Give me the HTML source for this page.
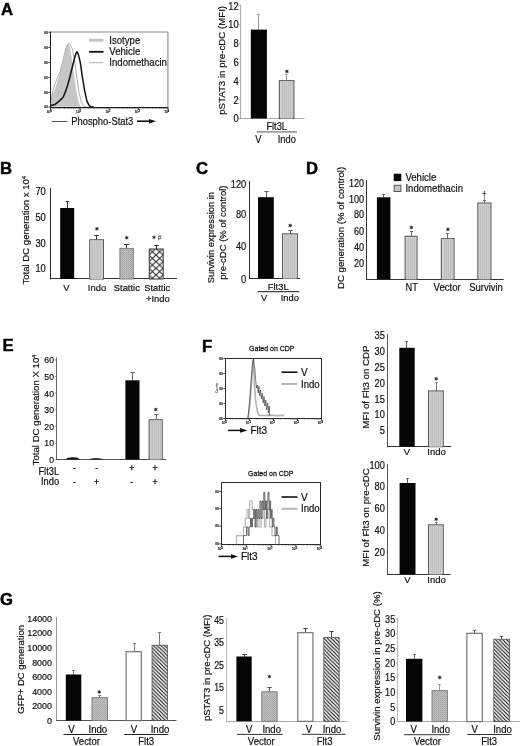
<!DOCTYPE html>
<html><head><meta charset="utf-8"><title>Figure</title>
<style>
html,body{margin:0;padding:0;background:#fff;}
svg{display:block;font-family:"Liberation Sans",sans-serif;}
</style></head><body>
<svg width="520" height="746" viewBox="0 0 520 746">
<defs>
<pattern id="dots" width="2" height="2" patternUnits="userSpaceOnUse"><rect width="2" height="2" fill="#cbcbcb"/><rect width="1" height="2" fill="#c0c0c0"/></pattern>
<pattern id="dense" width="2" height="2" patternUnits="userSpaceOnUse"><rect width="2" height="2" fill="#c0c0c0"/><rect width="1" height="1" fill="#a2a2a2"/><rect x="1" y="1" width="1" height="1" fill="#adadad"/></pattern>
<pattern id="hatch" width="3.7" height="3.7" patternUnits="userSpaceOnUse"><rect width="3.7" height="3.7" fill="#fff"/><path d="M-0.9,-0.9 L4.6,4.6 M-0.9,2.8 L0.9,4.6 M2.8,-0.9 L4.6,0.9" stroke="#0c0c0c" stroke-width="1.1"/></pattern>
<pattern id="cross" x="148.8" y="248.5" width="7.2" height="6.6" patternUnits="userSpaceOnUse"><rect width="7.2" height="6.6" fill="#fafafa"/><path d="M0,0 L7.2,6.6 M7.2,0 L0,6.6" stroke="#2a2a2a" stroke-width="1"/></pattern>
<marker id="ah" markerWidth="8" markerHeight="6" refX="1" refY="2.4" orient="auto" markerUnits="userSpaceOnUse"><path d="M0,0 L7.5,2.4 L0,4.8 Z" fill="#111"/></marker>
<filter id="soft" x="0" y="0" width="520" height="746" filterUnits="userSpaceOnUse"><feGaussianBlur stdDeviation="0.3"/></filter>
</defs>
<rect width="520" height="746" fill="#fff"/>

<g transform="translate(0 0.7)">
<path d="M50.6,105.8 L50.8,98 L51.5,96.5 L55.4,88.1 L59.2,75.8 L63.1,61.9 L66.2,48.1 L67.5,44.5 L68.5,43.5 L69.6,46 L70.8,52.7 L73.1,69.6 L75.4,86.5 L77.7,98.8 L79.2,103.5 L80.8,105.8 Z" fill="#c6c6c6" stroke="#bdbdbd" stroke-width="0.4"/>
<path d="M50.6,100 L51.1,98.8 L53.1,89.6 L55.4,81.9 L57.7,76.5 L60,71.2 L63.1,58.8 L66.2,46.5 L67.7,43.5 L68.8,42.6 L70,43.5 L72.3,48.1 L74.6,60.4 L76.9,77.3 L79.2,92.7 L81.5,101.9 L83.8,105.6 L86,106" fill="none" stroke="#8c8c8c" stroke-width="0.7" stroke-linejoin="round"/>
<path d="M50.6,105 L55.4,103.5 L59.2,100.4 L63.1,96.5 L65.4,91.2 L67.7,84.2 L70,75.8 L72.3,66.5 L74.6,57.3 L76,52.6 L76.9,51.2 L77.7,52 L78.5,54.2 L80.3,61.9 L82.3,75.8 L84.6,89.6 L86.9,100.4 L89.2,105 L91,106 L94,106.2" fill="none" stroke="#111" stroke-width="1.5" stroke-linejoin="round"/>
</g>
<line x1="50.5" y1="32" x2="167.9" y2="32" stroke="#8a8a8a" stroke-width="1"/>
<line x1="167.9" y1="32" x2="167.9" y2="107.6" stroke="#8a8a8a" stroke-width="1.1"/>
<line x1="50.5" y1="31.5" x2="50.5" y2="108.19999999999999" stroke="#1c1c1c" stroke-width="1"/>
<line x1="50.5" y1="107.6" x2="168.4" y2="107.6" stroke="#1c1c1c" stroke-width="1.3"/>
<line x1="50.5" y1="107.6" x2="50.5" y2="109.89999999999999" stroke="#333" stroke-width="0.9"/>
<line x1="59.34" y1="107.6" x2="59.34" y2="108.89999999999999" stroke="#444" stroke-width="0.5"/>
<line x1="64.5" y1="107.6" x2="64.5" y2="108.89999999999999" stroke="#444" stroke-width="0.5"/>
<line x1="68.17" y1="107.6" x2="68.17" y2="108.89999999999999" stroke="#444" stroke-width="0.5"/>
<line x1="71.01" y1="107.6" x2="71.01" y2="108.89999999999999" stroke="#444" stroke-width="0.5"/>
<line x1="73.34" y1="107.6" x2="73.34" y2="108.89999999999999" stroke="#444" stroke-width="0.5"/>
<line x1="75.3" y1="107.6" x2="75.3" y2="108.89999999999999" stroke="#444" stroke-width="0.5"/>
<line x1="77.01" y1="107.6" x2="77.01" y2="108.89999999999999" stroke="#444" stroke-width="0.5"/>
<line x1="78.51" y1="107.6" x2="78.51" y2="108.89999999999999" stroke="#444" stroke-width="0.5"/>
<line x1="79.85" y1="107.6" x2="79.85" y2="109.89999999999999" stroke="#333" stroke-width="0.9"/>
<line x1="88.69" y1="107.6" x2="88.69" y2="108.89999999999999" stroke="#444" stroke-width="0.5"/>
<line x1="93.85" y1="107.6" x2="93.85" y2="108.89999999999999" stroke="#444" stroke-width="0.5"/>
<line x1="97.52" y1="107.6" x2="97.52" y2="108.89999999999999" stroke="#444" stroke-width="0.5"/>
<line x1="100.36" y1="107.6" x2="100.36" y2="108.89999999999999" stroke="#444" stroke-width="0.5"/>
<line x1="102.69" y1="107.6" x2="102.69" y2="108.89999999999999" stroke="#444" stroke-width="0.5"/>
<line x1="104.65" y1="107.6" x2="104.65" y2="108.89999999999999" stroke="#444" stroke-width="0.5"/>
<line x1="106.36" y1="107.6" x2="106.36" y2="108.89999999999999" stroke="#444" stroke-width="0.5"/>
<line x1="107.86" y1="107.6" x2="107.86" y2="108.89999999999999" stroke="#444" stroke-width="0.5"/>
<line x1="109.2" y1="107.6" x2="109.2" y2="109.89999999999999" stroke="#333" stroke-width="0.9"/>
<line x1="118.04" y1="107.6" x2="118.04" y2="108.89999999999999" stroke="#444" stroke-width="0.5"/>
<line x1="123.2" y1="107.6" x2="123.2" y2="108.89999999999999" stroke="#444" stroke-width="0.5"/>
<line x1="126.87" y1="107.6" x2="126.87" y2="108.89999999999999" stroke="#444" stroke-width="0.5"/>
<line x1="129.71" y1="107.6" x2="129.71" y2="108.89999999999999" stroke="#444" stroke-width="0.5"/>
<line x1="132.04" y1="107.6" x2="132.04" y2="108.89999999999999" stroke="#444" stroke-width="0.5"/>
<line x1="134.0" y1="107.6" x2="134.0" y2="108.89999999999999" stroke="#444" stroke-width="0.5"/>
<line x1="135.71" y1="107.6" x2="135.71" y2="108.89999999999999" stroke="#444" stroke-width="0.5"/>
<line x1="137.21" y1="107.6" x2="137.21" y2="108.89999999999999" stroke="#444" stroke-width="0.5"/>
<line x1="138.55" y1="107.6" x2="138.55" y2="109.89999999999999" stroke="#333" stroke-width="0.9"/>
<line x1="147.39" y1="107.6" x2="147.39" y2="108.89999999999999" stroke="#444" stroke-width="0.5"/>
<line x1="152.55" y1="107.6" x2="152.55" y2="108.89999999999999" stroke="#444" stroke-width="0.5"/>
<line x1="156.22" y1="107.6" x2="156.22" y2="108.89999999999999" stroke="#444" stroke-width="0.5"/>
<line x1="159.06" y1="107.6" x2="159.06" y2="108.89999999999999" stroke="#444" stroke-width="0.5"/>
<line x1="161.39" y1="107.6" x2="161.39" y2="108.89999999999999" stroke="#444" stroke-width="0.5"/>
<line x1="163.35" y1="107.6" x2="163.35" y2="108.89999999999999" stroke="#444" stroke-width="0.5"/>
<line x1="165.06" y1="107.6" x2="165.06" y2="108.89999999999999" stroke="#444" stroke-width="0.5"/>
<line x1="166.56" y1="107.6" x2="166.56" y2="108.89999999999999" stroke="#444" stroke-width="0.5"/>
<line x1="167.9" y1="107.6" x2="167.9" y2="109.89999999999999" stroke="#333" stroke-width="0.9"/>
<line x1="48.3" y1="32.3" x2="50.5" y2="32.3" stroke="#333" stroke-width="0.9"/>
<line x1="48.3" y1="47.5" x2="50.5" y2="47.5" stroke="#333" stroke-width="0.9"/>
<line x1="48.3" y1="62.5" x2="50.5" y2="62.5" stroke="#333" stroke-width="0.9"/>
<line x1="48.3" y1="77.5" x2="50.5" y2="77.5" stroke="#333" stroke-width="0.9"/>
<line x1="48.3" y1="92.5" x2="50.5" y2="92.5" stroke="#333" stroke-width="0.9"/>
<line x1="48.3" y1="107" x2="50.5" y2="107" stroke="#333" stroke-width="0.9"/>
<line x1="89.1" y1="40.2" x2="103.5" y2="40.2" stroke="#c2c2c2" stroke-width="2.8"/>
<line x1="89.1" y1="51.8" x2="103.5" y2="51.8" stroke="#111" stroke-width="1.8"/>
<line x1="89.1" y1="62.7" x2="103.5" y2="62.7" stroke="#999" stroke-width="0.8"/>
<line x1="51.6" y1="121.5" x2="67.5" y2="121.5" stroke="#555" stroke-width="1"/>
<line x1="137" y1="121.2" x2="149.5" y2="121.2" stroke="#111" stroke-width="1.6" marker-end="url(#ah)"/>
<line x1="240.5" y1="4.6" x2="240.5" y2="119.0" stroke="#aaa" stroke-width="1"/>
<line x1="239.0" y1="118.5" x2="240.5" y2="118.5" stroke="#aaa" stroke-width="1"/>
<line x1="239.0" y1="99.68333333333334" x2="240.5" y2="99.68333333333334" stroke="#aaa" stroke-width="1"/>
<line x1="239.0" y1="80.86666666666667" x2="240.5" y2="80.86666666666667" stroke="#aaa" stroke-width="1"/>
<line x1="239.0" y1="62.05" x2="240.5" y2="62.05" stroke="#aaa" stroke-width="1"/>
<line x1="239.0" y1="43.233333333333334" x2="240.5" y2="43.233333333333334" stroke="#aaa" stroke-width="1"/>
<line x1="239.0" y1="24.41666666666667" x2="240.5" y2="24.41666666666667" stroke="#aaa" stroke-width="1"/>
<line x1="239.0" y1="5.599999999999994" x2="240.5" y2="5.599999999999994" stroke="#aaa" stroke-width="1"/>
<line x1="240.0" y1="118.5" x2="304.6" y2="118.5" stroke="#aaa" stroke-width="1"/>
<line x1="258.5" y1="14.5" x2="258.5" y2="30" stroke="#999" stroke-width="1"/>
<line x1="257.2" y1="14.5" x2="259.8" y2="14.5" stroke="#999" stroke-width="1"/>
<rect x="250.80" y="29.60" width="16.10" height="88.90" fill="#050505" stroke="none" stroke-width="1"/>
<line x1="286.5" y1="74.5" x2="286.5" y2="80" stroke="#999" stroke-width="1"/>
<line x1="285.2" y1="74.5" x2="287.8" y2="74.5" stroke="#999" stroke-width="1"/>
<rect x="279.35" y="80.65" width="14.60" height="37.85" fill="#e6e6e6" stroke="#5a5a5a" stroke-width="1.1"/>
<rect x="280.50" y="81.80" width="12.30" height="36.70" fill="url(#dots)" stroke="none" stroke-width="1"/>
<circle cx="286.9" cy="71.4" r="1.25" fill="#222"/>
<path d="M285.0,70.30000000000001 L288.79999999999995,72.5 M288.79999999999995,70.30000000000001 L285.0,72.5 M286.9,69.4 L286.9,73.4" stroke="#333" stroke-width="0.6"/>
<line x1="256.7" y1="131.8" x2="296.9" y2="131.8" stroke="#777" stroke-width="1.3"/>
<line x1="50.5" y1="188" x2="50.5" y2="279.5" stroke="#333" stroke-width="1"/>
<line x1="50.0" y1="278.5" x2="177" y2="278.5" stroke="#333" stroke-width="1"/>
<line x1="67.5" y1="201.5" x2="67.5" y2="208.5" stroke="#333" stroke-width="1"/>
<line x1="65.7" y1="201.5" x2="69.3" y2="201.5" stroke="#333" stroke-width="1"/>
<rect x="60.20" y="208.00" width="14.00" height="71.00" fill="#050505" stroke="none" stroke-width="1"/>
<line x1="96.5" y1="235.5" x2="96.5" y2="240" stroke="#333" stroke-width="1"/>
<line x1="94.1" y1="235.5" x2="98.9" y2="235.5" stroke="#333" stroke-width="1"/>
<rect x="89.75" y="239.75" width="13.70" height="39.25" fill="#e6e6e6" stroke="#5a5a5a" stroke-width="1.1"/>
<rect x="90.90" y="240.90" width="11.40" height="38.10" fill="url(#dots)" stroke="none" stroke-width="1"/>
<circle cx="96.9" cy="228.8" r="1.25" fill="#222"/>
<path d="M95.0,227.70000000000002 L98.80000000000001,229.9 M98.80000000000001,227.70000000000002 L95.0,229.9 M96.9,226.8 L96.9,230.8" stroke="#333" stroke-width="0.6"/>
<line x1="126.5" y1="244.5" x2="126.5" y2="248" stroke="#333" stroke-width="1"/>
<line x1="124.1" y1="244.5" x2="128.9" y2="244.5" stroke="#333" stroke-width="1"/>
<rect x="119.90" y="248.40" width="13.40" height="30.60" fill="url(#dense)" stroke="#808080" stroke-width="1"/>
<circle cx="126.7" cy="237.7" r="1.25" fill="#222"/>
<path d="M124.8,236.6 L128.6,238.79999999999998 M128.6,236.6 L124.8,238.79999999999998 M126.7,235.7 L126.7,239.7" stroke="#333" stroke-width="0.6"/>
<line x1="156.5" y1="245.5" x2="156.5" y2="249" stroke="#333" stroke-width="1"/>
<line x1="154.1" y1="245.5" x2="158.9" y2="245.5" stroke="#333" stroke-width="1"/>
<rect x="149.30" y="249.00" width="13.90" height="30.00" fill="url(#cross)" stroke="#333" stroke-width="1"/>
<circle cx="154" cy="237.3" r="1.1" fill="#222"/>
<path d="M152.1,236.20000000000002 L155.9,238.4 M155.9,236.20000000000002 L152.1,238.4 M154,235.3 L154,239.3" stroke="#333" stroke-width="0.6"/>
<line x1="249.5" y1="181" x2="249.5" y2="279.0" stroke="#333" stroke-width="1"/>
<line x1="249.0" y1="278.5" x2="300" y2="278.5" stroke="#333" stroke-width="1"/>
<line x1="266.5" y1="191.5" x2="266.5" y2="198" stroke="#666" stroke-width="1"/>
<line x1="264.3" y1="191.5" x2="268.7" y2="191.5" stroke="#666" stroke-width="1"/>
<rect x="258.00" y="197.20" width="15.80" height="81.30" fill="#050505" stroke="none" stroke-width="1"/>
<line x1="290.5" y1="230.5" x2="290.5" y2="234" stroke="#666" stroke-width="1"/>
<line x1="288.3" y1="230.5" x2="292.7" y2="230.5" stroke="#666" stroke-width="1"/>
<rect x="282.55" y="233.85" width="14.80" height="44.65" fill="#e6e6e6" stroke="#5a5a5a" stroke-width="1.1"/>
<rect x="283.70" y="235.00" width="12.50" height="43.50" fill="url(#dots)" stroke="none" stroke-width="1"/>
<circle cx="290.2" cy="225.5" r="1.25" fill="#222"/>
<path d="M288.3,224.4 L292.09999999999997,226.6 M292.09999999999997,224.4 L288.3,226.6 M290.2,223.5 L290.2,227.5" stroke="#333" stroke-width="0.6"/>
<line x1="257.5" y1="291.6" x2="299.3" y2="291.6" stroke="#444" stroke-width="1.1"/>
<line x1="366.5" y1="180" x2="366.5" y2="279.8" stroke="#333" stroke-width="1"/>
<line x1="366.0" y1="279.5" x2="503.7" y2="279.5" stroke="#333" stroke-width="1"/>
<line x1="383.5" y1="194.5" x2="383.5" y2="198" stroke="#666" stroke-width="1"/>
<line x1="381.7" y1="194.5" x2="385.3" y2="194.5" stroke="#666" stroke-width="1"/>
<rect x="376.90" y="197.30" width="13.50" height="82.00" fill="#050505" stroke="none" stroke-width="1"/>
<line x1="411.5" y1="231.5" x2="411.5" y2="236" stroke="#666" stroke-width="1"/>
<line x1="410.0" y1="231.5" x2="413.0" y2="231.5" stroke="#666" stroke-width="1"/>
<rect x="405.15" y="236.35" width="11.90" height="42.95" fill="#e6e6e6" stroke="#5a5a5a" stroke-width="1.1"/>
<rect x="406.30" y="237.50" width="9.60" height="41.80" fill="url(#dots)" stroke="none" stroke-width="1"/>
<circle cx="411.3" cy="227.5" r="1.25" fill="#222"/>
<path d="M409.40000000000003,226.4 L413.2,228.6 M413.2,226.4 L409.40000000000003,228.6 M411.3,225.5 L411.3,229.5" stroke="#333" stroke-width="0.6"/>
<line x1="447.5" y1="233.5" x2="447.5" y2="238.5" stroke="#666" stroke-width="1"/>
<line x1="446.0" y1="233.5" x2="449.0" y2="233.5" stroke="#666" stroke-width="1"/>
<rect x="441.35" y="238.65" width="12.70" height="40.65" fill="#e6e6e6" stroke="#5a5a5a" stroke-width="1.1"/>
<rect x="442.50" y="239.80" width="10.40" height="39.50" fill="url(#dots)" stroke="none" stroke-width="1"/>
<circle cx="447.9" cy="229.4" r="1.25" fill="#222"/>
<path d="M446.0,228.3 L449.79999999999995,230.5 M449.79999999999995,228.3 L446.0,230.5 M447.9,227.4 L447.9,231.4" stroke="#333" stroke-width="0.6"/>
<line x1="484.5" y1="200.5" x2="484.5" y2="203" stroke="#666" stroke-width="1"/>
<line x1="483.0" y1="200.5" x2="486.0" y2="200.5" stroke="#666" stroke-width="1"/>
<rect x="477.85" y="203.05" width="13.10" height="76.25" fill="#e6e6e6" stroke="#5a5a5a" stroke-width="1.1"/>
<rect x="479.00" y="204.20" width="10.80" height="75.10" fill="url(#dots)" stroke="none" stroke-width="1"/>
<rect x="393.70" y="173.70" width="7.60" height="7.40" fill="#050505" stroke="none" stroke-width="1"/>
<rect x="394.20" y="185.30" width="6.70" height="6.20" fill="url(#dots)" stroke="#555" stroke-width="1"/>
<line x1="56.5" y1="357.5" x2="56.5" y2="460.0" stroke="#666" stroke-width="1"/>
<line x1="55.3" y1="459.7" x2="56.5" y2="459.7" stroke="#666" stroke-width="1"/>
<line x1="55.3" y1="443.05" x2="56.5" y2="443.05" stroke="#666" stroke-width="1"/>
<line x1="55.3" y1="426.4" x2="56.5" y2="426.4" stroke="#666" stroke-width="1"/>
<line x1="55.3" y1="409.75" x2="56.5" y2="409.75" stroke="#666" stroke-width="1"/>
<line x1="55.3" y1="393.1" x2="56.5" y2="393.1" stroke="#666" stroke-width="1"/>
<line x1="55.3" y1="376.45" x2="56.5" y2="376.45" stroke="#666" stroke-width="1"/>
<line x1="55.3" y1="359.79999999999995" x2="56.5" y2="359.79999999999995" stroke="#666" stroke-width="1"/>
<line x1="56.0" y1="459.5" x2="166" y2="459.5" stroke="#555" stroke-width="1"/>
<path d="M65.7,459.5 L67,458 L72,457.3 L77,457.6 L80.2,459.5 Z" fill="#111"/>
<path d="M89.5,459.5 L91,458.5 L96,458.1 L101,458.4 L103.4,459.5 Z" fill="#222"/>
<line x1="132.5" y1="372.5" x2="132.5" y2="381" stroke="#666" stroke-width="1"/>
<line x1="130.3" y1="372.5" x2="134.7" y2="372.5" stroke="#666" stroke-width="1"/>
<rect x="125.40" y="380.30" width="14.10" height="79.20" fill="#050505" stroke="none" stroke-width="1"/>
<line x1="156.5" y1="414.5" x2="156.5" y2="420" stroke="#666" stroke-width="1"/>
<line x1="154.3" y1="414.5" x2="158.7" y2="414.5" stroke="#666" stroke-width="1"/>
<rect x="149.15" y="419.75" width="13.10" height="39.75" fill="#e6e6e6" stroke="#5a5a5a" stroke-width="1.1"/>
<rect x="150.30" y="420.90" width="10.80" height="38.60" fill="url(#dots)" stroke="none" stroke-width="1"/>
<circle cx="155.8" cy="409.5" r="1.25" fill="#222"/>
<path d="M153.9,408.4 L157.70000000000002,410.6 M157.70000000000002,408.4 L153.9,410.6 M155.8,407.5 L155.8,411.5" stroke="#333" stroke-width="0.6"/>
<rect x="225.5" y="358.5" width="96" height="60" fill="none" stroke="#2a2a2a" stroke-width="1"/>
<path d="M248.2,418 L249.2,410 L250.3,398 L251.5,382 L252.6,366 L253.4,360 L254.4,384 L255.6,400 L256.8,408.5 L258.2,414 L259.5,415.3 L264,415.5 L270,415.2 L276,415.6 L284.2,415.3" fill="none" stroke="#b4b4b4" stroke-width="1.7" stroke-linejoin="round"/>
<path d="M247.9,418 L249,408 L250.2,394 L251.5,376 L252.7,362 L253.4,358.7 L254,364 L254.8,369 L255.6,379.4 L256.5,388 L257.4,385 L258.2,393 L258.9,386.3 L259.7,396 L260.6,390 L261.4,399 L262.3,393 L263.2,403 L264,396.5 L264.9,406 L265.8,400 L266.7,410 L267.6,403 L268.5,413 L269.2,406 L269.6,415.7" fill="none" stroke="#333" stroke-width="0.65" stroke-linejoin="round"/>
<line x1="281.5" y1="372.2" x2="297.4" y2="372.2" stroke="#111" stroke-width="1.6"/>
<line x1="281.5" y1="383.9" x2="297.4" y2="383.9" stroke="#b4b4b4" stroke-width="2"/>
<line x1="228" y1="430.4" x2="241" y2="430.4" stroke="#111" stroke-width="1.5" marker-end="url(#ah)"/>
<line x1="225.5" y1="418.5" x2="225.5" y2="420.8" stroke="#333" stroke-width="0.9"/>
<line x1="232.72" y1="418.5" x2="232.72" y2="419.8" stroke="#444" stroke-width="0.5"/>
<line x1="236.95" y1="418.5" x2="236.95" y2="419.8" stroke="#444" stroke-width="0.5"/>
<line x1="239.95" y1="418.5" x2="239.95" y2="419.8" stroke="#444" stroke-width="0.5"/>
<line x1="242.28" y1="418.5" x2="242.28" y2="419.8" stroke="#444" stroke-width="0.5"/>
<line x1="244.18" y1="418.5" x2="244.18" y2="419.8" stroke="#444" stroke-width="0.5"/>
<line x1="245.78" y1="418.5" x2="245.78" y2="419.8" stroke="#444" stroke-width="0.5"/>
<line x1="247.17" y1="418.5" x2="247.17" y2="419.8" stroke="#444" stroke-width="0.5"/>
<line x1="248.4" y1="418.5" x2="248.4" y2="419.8" stroke="#444" stroke-width="0.5"/>
<line x1="249.5" y1="418.5" x2="249.5" y2="420.8" stroke="#333" stroke-width="0.9"/>
<line x1="256.72" y1="418.5" x2="256.72" y2="419.8" stroke="#444" stroke-width="0.5"/>
<line x1="260.95" y1="418.5" x2="260.95" y2="419.8" stroke="#444" stroke-width="0.5"/>
<line x1="263.95" y1="418.5" x2="263.95" y2="419.8" stroke="#444" stroke-width="0.5"/>
<line x1="266.28" y1="418.5" x2="266.28" y2="419.8" stroke="#444" stroke-width="0.5"/>
<line x1="268.18" y1="418.5" x2="268.18" y2="419.8" stroke="#444" stroke-width="0.5"/>
<line x1="269.78" y1="418.5" x2="269.78" y2="419.8" stroke="#444" stroke-width="0.5"/>
<line x1="271.17" y1="418.5" x2="271.17" y2="419.8" stroke="#444" stroke-width="0.5"/>
<line x1="272.4" y1="418.5" x2="272.4" y2="419.8" stroke="#444" stroke-width="0.5"/>
<line x1="273.5" y1="418.5" x2="273.5" y2="420.8" stroke="#333" stroke-width="0.9"/>
<line x1="280.72" y1="418.5" x2="280.72" y2="419.8" stroke="#444" stroke-width="0.5"/>
<line x1="284.95" y1="418.5" x2="284.95" y2="419.8" stroke="#444" stroke-width="0.5"/>
<line x1="287.95" y1="418.5" x2="287.95" y2="419.8" stroke="#444" stroke-width="0.5"/>
<line x1="290.28" y1="418.5" x2="290.28" y2="419.8" stroke="#444" stroke-width="0.5"/>
<line x1="292.18" y1="418.5" x2="292.18" y2="419.8" stroke="#444" stroke-width="0.5"/>
<line x1="293.78" y1="418.5" x2="293.78" y2="419.8" stroke="#444" stroke-width="0.5"/>
<line x1="295.17" y1="418.5" x2="295.17" y2="419.8" stroke="#444" stroke-width="0.5"/>
<line x1="296.4" y1="418.5" x2="296.4" y2="419.8" stroke="#444" stroke-width="0.5"/>
<line x1="297.5" y1="418.5" x2="297.5" y2="420.8" stroke="#333" stroke-width="0.9"/>
<line x1="304.72" y1="418.5" x2="304.72" y2="419.8" stroke="#444" stroke-width="0.5"/>
<line x1="308.95" y1="418.5" x2="308.95" y2="419.8" stroke="#444" stroke-width="0.5"/>
<line x1="311.95" y1="418.5" x2="311.95" y2="419.8" stroke="#444" stroke-width="0.5"/>
<line x1="314.28" y1="418.5" x2="314.28" y2="419.8" stroke="#444" stroke-width="0.5"/>
<line x1="316.18" y1="418.5" x2="316.18" y2="419.8" stroke="#444" stroke-width="0.5"/>
<line x1="317.78" y1="418.5" x2="317.78" y2="419.8" stroke="#444" stroke-width="0.5"/>
<line x1="319.17" y1="418.5" x2="319.17" y2="419.8" stroke="#444" stroke-width="0.5"/>
<line x1="320.4" y1="418.5" x2="320.4" y2="419.8" stroke="#444" stroke-width="0.5"/>
<line x1="321.5" y1="418.5" x2="321.5" y2="420.8" stroke="#333" stroke-width="0.9"/>
<line x1="223.3" y1="358.5" x2="225.5" y2="358.5" stroke="#333" stroke-width="0.9"/>
<line x1="223.3" y1="373.5" x2="225.5" y2="373.5" stroke="#333" stroke-width="0.9"/>
<line x1="223.3" y1="388.5" x2="225.5" y2="388.5" stroke="#333" stroke-width="0.9"/>
<line x1="223.3" y1="403.5" x2="225.5" y2="403.5" stroke="#333" stroke-width="0.9"/>
<line x1="223.3" y1="418.5" x2="225.5" y2="418.5" stroke="#333" stroke-width="0.9"/>
<rect x="221.5" y="482.5" width="99" height="62" fill="none" stroke="#2a2a2a" stroke-width="1"/>
<path transform="translate(0 0.4)" d="M236.6,543.9 V535.2 H243.5 V526.5 H245.3 V517.9 H247 V509.2 H248.6 V517.9 H249.6 V500.6 H252.2 V509.2 H253.5 V517.9 H255 V509.2 H256 V526.5 H257.5 V517.9 H259 V526.5 H261 V517.9 H263 V509.2 H264.5 V526.5 H266 V517.9 H268 V509.2 H269.5 V526.5 H272 V535.2 H275.5 V543.9" fill="none" stroke="#b4b4b4" stroke-width="1.15"/>
<path transform="translate(0 0.4)" d="M243.5,543.9 V535.2 H246.5 V526.5 H248 V535.2 H249 V526.5 H250.5 V517.9 H251.5 V526.5 H252.5 V517.9 H254 V509.2 H255 V526.5 H256 V509.2 H257 V517.9 H258 V509.2 H259 V517.9 H260 V500.6 H261 V517.9 H262 V500.6 H263 V509.2 H263.8 V491.9 H264.8 V509.2 H265.6 V500.6 H266.4 V517.9 H267.2 V500.6 H268 V491.9 H269 V509.2 H269.8 V500.6 H270.6 V517.9 H271.4 V509.2 H272.2 V526.5 H273 V517.9 H274 V526.5 H275 V535.2 H276.4 V526.5 H277.2 V535.2 H279 V543.9" fill="none" stroke="#3a3a3a" stroke-width="0.75"/>
<line x1="281.5" y1="497" x2="297.4" y2="497" stroke="#111" stroke-width="1.6"/>
<line x1="281.5" y1="508.8" x2="297.4" y2="508.8" stroke="#b4b4b4" stroke-width="2"/>
<line x1="218.6" y1="556.4" x2="231.6" y2="556.4" stroke="#111" stroke-width="1.5" marker-end="url(#ah)"/>
<line x1="221.5" y1="544.5" x2="221.5" y2="546.8" stroke="#333" stroke-width="0.9"/>
<line x1="228.95" y1="544.5" x2="228.95" y2="545.8" stroke="#444" stroke-width="0.5"/>
<line x1="233.31" y1="544.5" x2="233.31" y2="545.8" stroke="#444" stroke-width="0.5"/>
<line x1="236.4" y1="544.5" x2="236.4" y2="545.8" stroke="#444" stroke-width="0.5"/>
<line x1="238.8" y1="544.5" x2="238.8" y2="545.8" stroke="#444" stroke-width="0.5"/>
<line x1="240.76" y1="544.5" x2="240.76" y2="545.8" stroke="#444" stroke-width="0.5"/>
<line x1="242.42" y1="544.5" x2="242.42" y2="545.8" stroke="#444" stroke-width="0.5"/>
<line x1="243.85" y1="544.5" x2="243.85" y2="545.8" stroke="#444" stroke-width="0.5"/>
<line x1="245.12" y1="544.5" x2="245.12" y2="545.8" stroke="#444" stroke-width="0.5"/>
<line x1="246.25" y1="544.5" x2="246.25" y2="546.8" stroke="#333" stroke-width="0.9"/>
<line x1="253.7" y1="544.5" x2="253.7" y2="545.8" stroke="#444" stroke-width="0.5"/>
<line x1="258.06" y1="544.5" x2="258.06" y2="545.8" stroke="#444" stroke-width="0.5"/>
<line x1="261.15" y1="544.5" x2="261.15" y2="545.8" stroke="#444" stroke-width="0.5"/>
<line x1="263.55" y1="544.5" x2="263.55" y2="545.8" stroke="#444" stroke-width="0.5"/>
<line x1="265.51" y1="544.5" x2="265.51" y2="545.8" stroke="#444" stroke-width="0.5"/>
<line x1="267.17" y1="544.5" x2="267.17" y2="545.8" stroke="#444" stroke-width="0.5"/>
<line x1="268.6" y1="544.5" x2="268.6" y2="545.8" stroke="#444" stroke-width="0.5"/>
<line x1="269.87" y1="544.5" x2="269.87" y2="545.8" stroke="#444" stroke-width="0.5"/>
<line x1="271.0" y1="544.5" x2="271.0" y2="546.8" stroke="#333" stroke-width="0.9"/>
<line x1="278.45" y1="544.5" x2="278.45" y2="545.8" stroke="#444" stroke-width="0.5"/>
<line x1="282.81" y1="544.5" x2="282.81" y2="545.8" stroke="#444" stroke-width="0.5"/>
<line x1="285.9" y1="544.5" x2="285.9" y2="545.8" stroke="#444" stroke-width="0.5"/>
<line x1="288.3" y1="544.5" x2="288.3" y2="545.8" stroke="#444" stroke-width="0.5"/>
<line x1="290.26" y1="544.5" x2="290.26" y2="545.8" stroke="#444" stroke-width="0.5"/>
<line x1="291.92" y1="544.5" x2="291.92" y2="545.8" stroke="#444" stroke-width="0.5"/>
<line x1="293.35" y1="544.5" x2="293.35" y2="545.8" stroke="#444" stroke-width="0.5"/>
<line x1="294.62" y1="544.5" x2="294.62" y2="545.8" stroke="#444" stroke-width="0.5"/>
<line x1="295.75" y1="544.5" x2="295.75" y2="546.8" stroke="#333" stroke-width="0.9"/>
<line x1="303.2" y1="544.5" x2="303.2" y2="545.8" stroke="#444" stroke-width="0.5"/>
<line x1="307.56" y1="544.5" x2="307.56" y2="545.8" stroke="#444" stroke-width="0.5"/>
<line x1="310.65" y1="544.5" x2="310.65" y2="545.8" stroke="#444" stroke-width="0.5"/>
<line x1="313.05" y1="544.5" x2="313.05" y2="545.8" stroke="#444" stroke-width="0.5"/>
<line x1="315.01" y1="544.5" x2="315.01" y2="545.8" stroke="#444" stroke-width="0.5"/>
<line x1="316.67" y1="544.5" x2="316.67" y2="545.8" stroke="#444" stroke-width="0.5"/>
<line x1="318.1" y1="544.5" x2="318.1" y2="545.8" stroke="#444" stroke-width="0.5"/>
<line x1="319.37" y1="544.5" x2="319.37" y2="545.8" stroke="#444" stroke-width="0.5"/>
<line x1="320.5" y1="544.5" x2="320.5" y2="546.8" stroke="#333" stroke-width="0.9"/>
<line x1="219.3" y1="491.4" x2="221.5" y2="491.4" stroke="#333" stroke-width="0.9"/>
<line x1="219.3" y1="508.7" x2="221.5" y2="508.7" stroke="#333" stroke-width="0.9"/>
<line x1="219.3" y1="526" x2="221.5" y2="526" stroke="#333" stroke-width="0.9"/>
<line x1="219.3" y1="543.9" x2="221.5" y2="543.9" stroke="#333" stroke-width="0.9"/>
<line x1="387.5" y1="334" x2="387.5" y2="447.2" stroke="#555" stroke-width="1"/>
<line x1="387.0" y1="446.5" x2="451.3" y2="446.5" stroke="#333" stroke-width="1"/>
<line x1="406.5" y1="341.5" x2="406.5" y2="348" stroke="#555" stroke-width="1"/>
<line x1="405.2" y1="341.5" x2="407.8" y2="341.5" stroke="#555" stroke-width="1"/>
<rect x="399.30" y="347.80" width="15.40" height="98.90" fill="#050505" stroke="none" stroke-width="1"/>
<line x1="436.5" y1="382.5" x2="436.5" y2="391" stroke="#777" stroke-width="1"/>
<line x1="435.2" y1="382.5" x2="437.8" y2="382.5" stroke="#777" stroke-width="1"/>
<rect x="428.55" y="390.95" width="14.70" height="55.75" fill="#e6e6e6" stroke="#5a5a5a" stroke-width="1.1"/>
<rect x="429.70" y="392.10" width="12.40" height="54.60" fill="url(#dots)" stroke="none" stroke-width="1"/>
<circle cx="436.2" cy="378.8" r="1.25" fill="#222"/>
<path d="M434.3,377.7 L438.09999999999997,379.90000000000003 M438.09999999999997,377.7 L434.3,379.90000000000003 M436.2,376.8 L436.2,380.8" stroke="#333" stroke-width="0.6"/>
<line x1="387.5" y1="464" x2="387.5" y2="574.8" stroke="#555" stroke-width="1"/>
<line x1="387.0" y1="574.5" x2="450.5" y2="574.5" stroke="#333" stroke-width="1"/>
<line x1="407.5" y1="478.5" x2="407.5" y2="484" stroke="#555" stroke-width="1"/>
<line x1="406.2" y1="478.5" x2="408.8" y2="478.5" stroke="#555" stroke-width="1"/>
<rect x="399.60" y="483.00" width="15.90" height="91.30" fill="#050505" stroke="none" stroke-width="1"/>
<line x1="436.5" y1="522.5" x2="436.5" y2="525" stroke="#777" stroke-width="1"/>
<line x1="435.2" y1="522.5" x2="437.8" y2="522.5" stroke="#777" stroke-width="1"/>
<rect x="428.55" y="524.85" width="14.70" height="49.45" fill="#e6e6e6" stroke="#5a5a5a" stroke-width="1.1"/>
<rect x="429.70" y="526.00" width="12.40" height="48.30" fill="url(#dots)" stroke="none" stroke-width="1"/>
<circle cx="436.2" cy="519.3" r="1.25" fill="#222"/>
<path d="M434.3,518.1999999999999 L438.09999999999997,520.4 M438.09999999999997,518.1999999999999 L434.3,520.4 M436.2,517.3 L436.2,521.3" stroke="#333" stroke-width="0.6"/>
<line x1="56.5" y1="617" x2="56.5" y2="721.1" stroke="#999" stroke-width="1"/>
<line x1="56.0" y1="720.5" x2="176.5" y2="720.5" stroke="#555" stroke-width="1.1"/>
<line x1="73.5" y1="670.5" x2="73.5" y2="675" stroke="#7a7a7a" stroke-width="1"/>
<line x1="71.9" y1="670.5" x2="75.1" y2="670.5" stroke="#7a7a7a" stroke-width="1"/>
<rect x="65.80" y="674.50" width="15.50" height="46.10" fill="#050505" stroke="none" stroke-width="1"/>
<line x1="99.5" y1="695.5" x2="99.5" y2="698" stroke="#7a7a7a" stroke-width="1"/>
<line x1="97.9" y1="695.5" x2="101.1" y2="695.5" stroke="#7a7a7a" stroke-width="1"/>
<rect x="92.00" y="697.60" width="15.50" height="23.00" fill="url(#dense)" stroke="#808080" stroke-width="1"/>
<circle cx="99.2" cy="692" r="1.25" fill="#222"/>
<path d="M97.3,690.9 L101.10000000000001,693.1 M101.10000000000001,690.9 L97.3,693.1 M99.2,690 L99.2,694" stroke="#333" stroke-width="0.6"/>
<line x1="134.5" y1="643.5" x2="134.5" y2="652" stroke="#7a7a7a" stroke-width="1"/>
<line x1="132.9" y1="643.5" x2="136.1" y2="643.5" stroke="#7a7a7a" stroke-width="1"/>
<rect x="126.10" y="651.70" width="15.20" height="68.90" fill="#fff" stroke="#6a6a6a" stroke-width="1.1"/>
<line x1="159.5" y1="632.5" x2="159.5" y2="645" stroke="#7a7a7a" stroke-width="1"/>
<line x1="157.9" y1="632.5" x2="161.1" y2="632.5" stroke="#7a7a7a" stroke-width="1"/>
<rect x="152.00" y="645.20" width="15.50" height="75.40" fill="url(#hatch)" stroke="#444" stroke-width="0.7"/>
<line x1="63.5" y1="734.5" x2="107.3" y2="734.5" stroke="#222" stroke-width="1"/>
<line x1="124.3" y1="734.5" x2="168.3" y2="734.5" stroke="#222" stroke-width="1"/>
<line x1="226.5" y1="618" x2="226.5" y2="721.8" stroke="#bbb" stroke-width="1"/>
<line x1="226.0" y1="721.5" x2="347.5" y2="721.5" stroke="#aaa" stroke-width="1"/>
<line x1="244.5" y1="654.5" x2="244.5" y2="657" stroke="#444" stroke-width="1"/>
<line x1="242.3" y1="654.5" x2="246.7" y2="654.5" stroke="#444" stroke-width="1"/>
<rect x="236.40" y="656.50" width="15.30" height="64.80" fill="#050505" stroke="none" stroke-width="1"/>
<line x1="269.5" y1="687.5" x2="269.5" y2="692" stroke="#555" stroke-width="1"/>
<line x1="267.3" y1="687.5" x2="271.7" y2="687.5" stroke="#555" stroke-width="1"/>
<rect x="261.80" y="691.80" width="15.30" height="29.50" fill="url(#dense)" stroke="#808080" stroke-width="1"/>
<circle cx="269.4" cy="676.6" r="1.25" fill="#222"/>
<path d="M267.5,675.5 L271.29999999999995,677.7 M271.29999999999995,675.5 L267.5,677.7 M269.4,674.6 L269.4,678.6" stroke="#333" stroke-width="0.6"/>
<line x1="305.5" y1="628.5" x2="305.5" y2="633" stroke="#444" stroke-width="1"/>
<line x1="303.3" y1="628.5" x2="307.7" y2="628.5" stroke="#444" stroke-width="1"/>
<rect x="297.80" y="632.70" width="15.10" height="88.60" fill="#fff" stroke="#6a6a6a" stroke-width="1.1"/>
<line x1="331.5" y1="631.5" x2="331.5" y2="637" stroke="#444" stroke-width="1"/>
<line x1="329.3" y1="631.5" x2="333.7" y2="631.5" stroke="#444" stroke-width="1"/>
<rect x="323.80" y="637.40" width="15.40" height="83.90" fill="url(#hatch)" stroke="#444" stroke-width="0.7"/>
<line x1="237" y1="734.4" x2="282.8" y2="734.4" stroke="#333" stroke-width="1"/>
<line x1="301.9" y1="734.3" x2="345.6" y2="734.3" stroke="#333" stroke-width="1"/>
<line x1="397.5" y1="618" x2="397.5" y2="722.1" stroke="#bbb" stroke-width="1"/>
<line x1="396.0" y1="721.6" x2="397.5" y2="721.6" stroke="#bbb" stroke-width="1"/>
<line x1="396.0" y1="706.97" x2="397.5" y2="706.97" stroke="#bbb" stroke-width="1"/>
<line x1="396.0" y1="692.34" x2="397.5" y2="692.34" stroke="#bbb" stroke-width="1"/>
<line x1="396.0" y1="677.71" x2="397.5" y2="677.71" stroke="#bbb" stroke-width="1"/>
<line x1="396.0" y1="663.08" x2="397.5" y2="663.08" stroke="#bbb" stroke-width="1"/>
<line x1="396.0" y1="648.45" x2="397.5" y2="648.45" stroke="#bbb" stroke-width="1"/>
<line x1="396.0" y1="633.82" x2="397.5" y2="633.82" stroke="#bbb" stroke-width="1"/>
<line x1="396.0" y1="619.19" x2="397.5" y2="619.19" stroke="#bbb" stroke-width="1"/>
<line x1="397.0" y1="721.5" x2="520" y2="721.5" stroke="#aaa" stroke-width="1"/>
<line x1="414.5" y1="654.5" x2="414.5" y2="660" stroke="#666" stroke-width="1"/>
<line x1="413.1" y1="654.5" x2="415.9" y2="654.5" stroke="#666" stroke-width="1"/>
<rect x="406.00" y="658.80" width="16.40" height="62.80" fill="#050505" stroke="none" stroke-width="1"/>
<line x1="439.5" y1="684.5" x2="439.5" y2="691" stroke="#999" stroke-width="1"/>
<line x1="438.1" y1="684.5" x2="440.9" y2="684.5" stroke="#999" stroke-width="1"/>
<rect x="432.00" y="690.60" width="15.40" height="31.00" fill="url(#dense)" stroke="#808080" stroke-width="1"/>
<circle cx="439.7" cy="677.4" r="1.25" fill="#222"/>
<path d="M437.8,676.3 L441.59999999999997,678.5 M441.59999999999997,676.3 L437.8,678.5 M439.7,675.4 L439.7,679.4" stroke="#333" stroke-width="0.6"/>
<line x1="474.5" y1="630.5" x2="474.5" y2="634" stroke="#666" stroke-width="1"/>
<line x1="472.7" y1="630.5" x2="476.3" y2="630.5" stroke="#666" stroke-width="1"/>
<rect x="466.90" y="633.30" width="15.40" height="88.30" fill="#fff" stroke="#6a6a6a" stroke-width="1.1"/>
<line x1="501.5" y1="636.5" x2="501.5" y2="640" stroke="#666" stroke-width="1"/>
<line x1="499.7" y1="636.5" x2="503.3" y2="636.5" stroke="#666" stroke-width="1"/>
<rect x="493.80" y="639.20" width="15.90" height="82.40" fill="url(#hatch)" stroke="#444" stroke-width="0.7"/>
<line x1="404.2" y1="734.7" x2="449.2" y2="734.7" stroke="#333" stroke-width="1"/>
<line x1="467.3" y1="734.5" x2="511.6" y2="734.5" stroke="#333" stroke-width="1"/>
<g filter="url(#soft)">
<text transform="translate(0.9 14.8)" font-size="16.7" text-anchor="start" fill="#000" font-weight="bold" stroke="#000" stroke-width="0.45">A</text>
<text transform="translate(0 173.8)" font-size="16.7" text-anchor="start" fill="#000" font-weight="bold" stroke="#000" stroke-width="0.45">B</text>
<text transform="translate(195.9 173.7)" font-size="16.7" text-anchor="start" fill="#000" font-weight="bold" stroke="#000" stroke-width="0.45">C</text>
<text transform="translate(305.9 173.8)" font-size="16.7" text-anchor="start" fill="#000" font-weight="bold" stroke="#000" stroke-width="0.45">D</text>
<text transform="translate(2.5 351.4)" font-size="16.7" text-anchor="start" fill="#000" font-weight="bold" stroke="#000" stroke-width="0.45">E</text>
<text transform="translate(201.9 351.5)" font-size="16.7" text-anchor="start" fill="#000" font-weight="bold" stroke="#000" stroke-width="0.45">F</text>
<text transform="translate(0.1 605)" font-size="16.7" text-anchor="start" fill="#000" font-weight="bold" stroke="#000" stroke-width="0.45">G</text>
<text transform="translate(50.3 113.19999999999999)" font-size="3.2" text-anchor="end" fill="#222" stroke="#222" stroke-width="0.2">10</text>
<text transform="translate(50.4 111.8)" font-size="2.6" text-anchor="start" fill="#222" stroke="#222" stroke-width="0.2">0</text>
<text transform="translate(79.65 113.19999999999999)" font-size="3.2" text-anchor="end" fill="#222" stroke="#222" stroke-width="0.2">10</text>
<text transform="translate(79.75 111.8)" font-size="2.6" text-anchor="start" fill="#222" stroke="#222" stroke-width="0.2">1</text>
<text transform="translate(109.0 113.19999999999999)" font-size="3.2" text-anchor="end" fill="#222" stroke="#222" stroke-width="0.2">10</text>
<text transform="translate(109.1 111.8)" font-size="2.6" text-anchor="start" fill="#222" stroke="#222" stroke-width="0.2">2</text>
<text transform="translate(138.35 113.19999999999999)" font-size="3.2" text-anchor="end" fill="#222" stroke="#222" stroke-width="0.2">10</text>
<text transform="translate(138.45 111.8)" font-size="2.6" text-anchor="start" fill="#222" stroke="#222" stroke-width="0.2">3</text>
<text transform="translate(167.7 113.19999999999999)" font-size="3.2" text-anchor="end" fill="#222" stroke="#222" stroke-width="0.2">10</text>
<text transform="translate(167.8 111.8)" font-size="2.6" text-anchor="start" fill="#222" stroke="#222" stroke-width="0.2">4</text>
<text transform="translate(47.7 33.5)" font-size="3.2" text-anchor="end" fill="#222" stroke="#222" stroke-width="0.2">80</text>
<text transform="translate(47.7 48.7)" font-size="3.2" text-anchor="end" fill="#222" stroke="#222" stroke-width="0.2">80</text>
<text transform="translate(47.7 63.7)" font-size="3.2" text-anchor="end" fill="#222" stroke="#222" stroke-width="0.2">80</text>
<text transform="translate(47.7 78.7)" font-size="3.2" text-anchor="end" fill="#222" stroke="#222" stroke-width="0.2">80</text>
<text transform="translate(47.7 93.7)" font-size="3.2" text-anchor="end" fill="#222" stroke="#222" stroke-width="0.2">80</text>
<text transform="translate(47.7 108.2)" font-size="3.2" text-anchor="end" fill="#222" stroke="#222" stroke-width="0.2">80</text>
<text transform="translate(109.3 44) scale(0.885 1)" font-size="10.85" text-anchor="start" fill="#111" stroke="#111" stroke-width="0.2">Isotype</text>
<text transform="translate(109.3 55) scale(0.885 1)" font-size="10.85" text-anchor="start" fill="#111" stroke="#111" stroke-width="0.2">Vehicle</text>
<text transform="translate(109.3 66.3) scale(0.885 1)" font-size="10.85" text-anchor="start" fill="#111" stroke="#111" stroke-width="0.2">Indomethacin</text>
<text transform="translate(71.2 124.8) scale(0.885 1)" font-size="10.62" text-anchor="start" fill="#111" stroke="#111" stroke-width="0.2">Phospho-Stat3</text>
<text transform="translate(238.7 122.41) scale(0.85 1)" font-size="11" text-anchor="end" fill="#111" stroke="#111" stroke-width="0.2">0</text>
<text transform="translate(238.7 103.59) scale(0.85 1)" font-size="11" text-anchor="end" fill="#111" stroke="#111" stroke-width="0.2">2</text>
<text transform="translate(238.7 84.77) scale(0.85 1)" font-size="11" text-anchor="end" fill="#111" stroke="#111" stroke-width="0.2">4</text>
<text transform="translate(238.7 65.95) scale(0.85 1)" font-size="11" text-anchor="end" fill="#111" stroke="#111" stroke-width="0.2">6</text>
<text transform="translate(238.7 47.14) scale(0.85 1)" font-size="11" text-anchor="end" fill="#111" stroke="#111" stroke-width="0.2">8</text>
<text transform="translate(238.7 28.32) scale(0.85 1)" font-size="11" text-anchor="end" fill="#111" stroke="#111" stroke-width="0.2">10</text>
<text transform="translate(238.7 9.5) scale(0.85 1)" font-size="11" text-anchor="end" fill="#111" stroke="#111" stroke-width="0.2">12</text>
<text transform="translate(276.7 130) scale(0.885 1)" font-size="10.51" text-anchor="middle" fill="#111" stroke="#111" stroke-width="0.2">Flt3L</text>
<text transform="translate(258.4 142.8) scale(0.885 1)" font-size="10.51" text-anchor="middle" fill="#111" stroke="#111" stroke-width="0.2">V</text>
<text transform="translate(286.8 142.8) scale(0.885 1)" font-size="10.51" text-anchor="middle" fill="#111" stroke="#111" stroke-width="0.2">Indo</text>
<text transform="translate(224.8 60.4) rotate(-90) scale(1 0.9)" font-size="9.7" text-anchor="middle" fill="#111" stroke="#111" stroke-width="0.2">pSTAT3 in pre-cDC (MFI)</text>
<text transform="translate(45.8 272.4) scale(0.85 1)" font-size="11" text-anchor="end" fill="#111" stroke="#111" stroke-width="0.2">10</text>
<text transform="translate(45.8 246.6) scale(0.85 1)" font-size="11" text-anchor="end" fill="#111" stroke="#111" stroke-width="0.2">30</text>
<text transform="translate(45.8 220.5) scale(0.85 1)" font-size="11" text-anchor="end" fill="#111" stroke="#111" stroke-width="0.2">50</text>
<text transform="translate(45.8 194.91) scale(0.85 1)" font-size="11" text-anchor="end" fill="#111" stroke="#111" stroke-width="0.2">70</text>
<text transform="translate(159.6 239.6) scale(0.952 1)" font-size="6.83" text-anchor="middle" fill="#111">#</text>
<text transform="translate(66.4 291.2) scale(0.952 1)" font-size="9.87" text-anchor="middle" fill="#111" stroke="#111" stroke-width="0.2">V</text>
<text transform="translate(97 291.2) scale(0.952 1)" font-size="9.87" text-anchor="middle" fill="#111" stroke="#111" stroke-width="0.2">Indo</text>
<text transform="translate(126.8 291.2) scale(0.952 1)" font-size="9.87" text-anchor="middle" fill="#111" stroke="#111" stroke-width="0.2">Stattic</text>
<text transform="translate(157.2 291.2) scale(0.952 1)" font-size="9.87" text-anchor="middle" fill="#111" stroke="#111" stroke-width="0.2">Stattic</text>
<text transform="translate(157.8 302) scale(0.952 1)" font-size="9.87" text-anchor="middle" fill="#111" stroke="#111" stroke-width="0.2">+Indo</text>
<text transform="translate(29.3 230.3) rotate(-90) scale(1 0.9)" font-size="9.6" text-anchor="middle" fill="#111" stroke="#111" stroke-width="0.2">Total DC generation x 10<tspan font-size="5.5" dy="-3.5">4</tspan></text>
<text transform="translate(246.3 283.2) scale(0.85 1)" font-size="11" text-anchor="end" fill="#111" stroke="#111" stroke-width="0.2">0</text>
<text transform="translate(246.3 250.21) scale(0.85 1)" font-size="11" text-anchor="end" fill="#111" stroke="#111" stroke-width="0.2">40</text>
<text transform="translate(246.3 217.71) scale(0.85 1)" font-size="11" text-anchor="end" fill="#111" stroke="#111" stroke-width="0.2">80</text>
<text transform="translate(246.3 188.1) scale(0.85 1)" font-size="11" text-anchor="end" fill="#111" stroke="#111" stroke-width="0.2">120</text>
<text transform="translate(278.2 290)" font-size="9.4" text-anchor="middle" fill="#111" stroke="#111" stroke-width="0.2">Flt3L</text>
<text transform="translate(264 300.8)" font-size="9.3" text-anchor="middle" fill="#111" stroke="#111" stroke-width="0.2">V</text>
<text transform="translate(289.8 300.8)" font-size="9.3" text-anchor="middle" fill="#111" stroke="#111" stroke-width="0.2">Indo</text>
<text transform="translate(214.1 237.6) rotate(-90) scale(1 0.9)" font-size="9.4" text-anchor="middle" fill="#111" stroke="#111" stroke-width="0.2">Survivin expression in</text>
<text transform="translate(226.1 232.6) rotate(-90) scale(1 0.9)" font-size="9.5" text-anchor="middle" fill="#111" stroke="#111" stroke-width="0.2">pre-cDC (% of control)</text>
<text transform="translate(364 267.16) scale(0.88 1)" font-size="10.3" text-anchor="end" fill="#111" stroke="#111" stroke-width="0.2">20</text>
<text transform="translate(364 250.86) scale(0.88 1)" font-size="10.3" text-anchor="end" fill="#111" stroke="#111" stroke-width="0.2">40</text>
<text transform="translate(364 234.66) scale(0.88 1)" font-size="10.3" text-anchor="end" fill="#111" stroke="#111" stroke-width="0.2">60</text>
<text transform="translate(364 218.26) scale(0.88 1)" font-size="10.3" text-anchor="end" fill="#111" stroke="#111" stroke-width="0.2">80</text>
<text transform="translate(364 202.66) scale(0.88 1)" font-size="10.3" text-anchor="end" fill="#111" stroke="#111" stroke-width="0.2">100</text>
<text transform="translate(364 186.66) scale(0.88 1)" font-size="10.3" text-anchor="end" fill="#111" stroke="#111" stroke-width="0.2">120</text>
<text transform="translate(484.4 199.3) scale(0.909 1)" font-size="11.0" text-anchor="middle" fill="#333">†</text>
<text transform="translate(411.7 290.7) scale(0.909 1)" font-size="10.23" text-anchor="middle" fill="#111" stroke="#111" stroke-width="0.2">NT</text>
<text transform="translate(447.2 290.7) scale(0.909 1)" font-size="10.56" text-anchor="middle" fill="#111" stroke="#111" stroke-width="0.2">Vector</text>
<text transform="translate(486 290.7) scale(0.909 1)" font-size="10.45" text-anchor="middle" fill="#111" stroke="#111" stroke-width="0.2">Survivin</text>
<text transform="translate(405.4 180.6) scale(0.909 1)" font-size="10.56" text-anchor="start" fill="#111" stroke="#111" stroke-width="0.2">Vehicle</text>
<text transform="translate(405.4 191.8) scale(0.909 1)" font-size="10.56" text-anchor="start" fill="#111" stroke="#111" stroke-width="0.2">Indomethacin</text>
<text transform="translate(344.4 228) rotate(-90) scale(1 0.9)" font-size="9.65" text-anchor="middle" fill="#111" stroke="#111" stroke-width="0.2">DC generation (% of control)</text>
<text transform="translate(54 463.14) scale(0.9 1)" font-size="9.7" text-anchor="end" fill="#111" stroke="#111" stroke-width="0.2">0</text>
<text transform="translate(54 446.49) scale(0.9 1)" font-size="9.7" text-anchor="end" fill="#111" stroke="#111" stroke-width="0.2">10</text>
<text transform="translate(54 429.84) scale(0.9 1)" font-size="9.7" text-anchor="end" fill="#111" stroke="#111" stroke-width="0.2">20</text>
<text transform="translate(54 413.19) scale(0.9 1)" font-size="9.7" text-anchor="end" fill="#111" stroke="#111" stroke-width="0.2">30</text>
<text transform="translate(54 396.54) scale(0.9 1)" font-size="9.7" text-anchor="end" fill="#111" stroke="#111" stroke-width="0.2">40</text>
<text transform="translate(54 379.89) scale(0.9 1)" font-size="9.7" text-anchor="end" fill="#111" stroke="#111" stroke-width="0.2">50</text>
<text transform="translate(54 363.24) scale(0.9 1)" font-size="9.7" text-anchor="end" fill="#111" stroke="#111" stroke-width="0.2">60</text>
<text transform="translate(59.1 474.6) scale(0.909 1)" font-size="10.23" text-anchor="end" fill="#111" stroke="#111" stroke-width="0.2">Flt3L</text>
<text transform="translate(59.1 484.7) scale(0.909 1)" font-size="10.23" text-anchor="end" fill="#111" stroke="#111" stroke-width="0.2">Indo</text>
<text transform="translate(74.5 471.3)" font-size="8.6" text-anchor="middle" fill="#111" stroke="#111" stroke-width="0.35">-</text>
<text transform="translate(74.5 485)" font-size="8.6" text-anchor="middle" fill="#111" stroke="#111" stroke-width="0.35">-</text>
<text transform="translate(96.6 471.3)" font-size="8.6" text-anchor="middle" fill="#111" stroke="#111" stroke-width="0.35">-</text>
<text transform="translate(96.6 485)" font-size="8.6" text-anchor="middle" fill="#111" stroke="#111" stroke-width="0.35">+</text>
<text transform="translate(131.8 471.3)" font-size="8.6" text-anchor="middle" fill="#111" stroke="#111" stroke-width="0.35">+</text>
<text transform="translate(131.8 485)" font-size="8.6" text-anchor="middle" fill="#111" stroke="#111" stroke-width="0.35">-</text>
<text transform="translate(155 471.3)" font-size="8.6" text-anchor="middle" fill="#111" stroke="#111" stroke-width="0.35">+</text>
<text transform="translate(155 485)" font-size="8.6" text-anchor="middle" fill="#111" stroke="#111" stroke-width="0.35">+</text>
<text transform="translate(39.2 410) rotate(-90) scale(1 0.9)" font-size="9.65" text-anchor="middle" fill="#111" stroke="#111" stroke-width="0.2">Total DC generation X 10<tspan font-size="5.5" dy="-3.5">4</tspan></text>
<text transform="translate(271.8 350.9) scale(0.87 1)" font-size="8.05" text-anchor="middle" fill="#111" stroke="#111" stroke-width="0.25">Gated on CDP</text>
<text transform="translate(301 376.2) scale(0.952 1)" font-size="10.5" text-anchor="start" fill="#111" stroke="#111" stroke-width="0.2">V</text>
<text transform="translate(301 387.5) scale(0.952 1)" font-size="10.08" text-anchor="start" fill="#111" stroke="#111" stroke-width="0.2">Indo</text>
<text transform="translate(250.5 433.9) scale(0.952 1)" font-size="10.5" text-anchor="start" fill="#111" stroke="#111" stroke-width="0.2">Flt3</text>
<text transform="translate(225.3 424.1)" font-size="3.2" text-anchor="end" fill="#222" stroke="#222" stroke-width="0.2">10</text>
<text transform="translate(225.4 422.7)" font-size="2.6" text-anchor="start" fill="#222" stroke="#222" stroke-width="0.2">0</text>
<text transform="translate(249.3 424.1)" font-size="3.2" text-anchor="end" fill="#222" stroke="#222" stroke-width="0.2">10</text>
<text transform="translate(249.4 422.7)" font-size="2.6" text-anchor="start" fill="#222" stroke="#222" stroke-width="0.2">1</text>
<text transform="translate(273.3 424.1)" font-size="3.2" text-anchor="end" fill="#222" stroke="#222" stroke-width="0.2">10</text>
<text transform="translate(273.4 422.7)" font-size="2.6" text-anchor="start" fill="#222" stroke="#222" stroke-width="0.2">2</text>
<text transform="translate(297.3 424.1)" font-size="3.2" text-anchor="end" fill="#222" stroke="#222" stroke-width="0.2">10</text>
<text transform="translate(297.4 422.7)" font-size="2.6" text-anchor="start" fill="#222" stroke="#222" stroke-width="0.2">3</text>
<text transform="translate(321.3 424.1)" font-size="3.2" text-anchor="end" fill="#222" stroke="#222" stroke-width="0.2">10</text>
<text transform="translate(321.4 422.7)" font-size="2.6" text-anchor="start" fill="#222" stroke="#222" stroke-width="0.2">4</text>
<text transform="translate(222.7 359.7)" font-size="3.2" text-anchor="end" fill="#222" stroke="#222" stroke-width="0.2">80</text>
<text transform="translate(222.7 374.7)" font-size="3.2" text-anchor="end" fill="#222" stroke="#222" stroke-width="0.2">80</text>
<text transform="translate(222.7 389.7)" font-size="3.2" text-anchor="end" fill="#222" stroke="#222" stroke-width="0.2">80</text>
<text transform="translate(222.7 404.7)" font-size="3.2" text-anchor="end" fill="#222" stroke="#222" stroke-width="0.2">80</text>
<text transform="translate(222.7 419.7)" font-size="3.2" text-anchor="end" fill="#222" stroke="#222" stroke-width="0.2">80</text>
<text transform="translate(218.3 388) rotate(-90) scale(1 0.9)" font-size="3" text-anchor="middle" fill="#333" stroke="#333" stroke-width="0.1">Counts</text>
<text transform="translate(270.8 475.5) scale(0.87 1)" font-size="8.05" text-anchor="middle" fill="#111" stroke="#111" stroke-width="0.25">Gated on CDP</text>
<text transform="translate(301 500.6) scale(0.952 1)" font-size="10.5" text-anchor="start" fill="#111" stroke="#111" stroke-width="0.2">V</text>
<text transform="translate(301 512.4) scale(0.952 1)" font-size="10.08" text-anchor="start" fill="#111" stroke="#111" stroke-width="0.2">Indo</text>
<text transform="translate(241 560.4) scale(0.952 1)" font-size="10.5" text-anchor="start" fill="#111" stroke="#111" stroke-width="0.2">Flt3</text>
<text transform="translate(221.3 550.1)" font-size="3.2" text-anchor="end" fill="#222" stroke="#222" stroke-width="0.2">10</text>
<text transform="translate(221.4 548.7)" font-size="2.6" text-anchor="start" fill="#222" stroke="#222" stroke-width="0.2">0</text>
<text transform="translate(246.05 550.1)" font-size="3.2" text-anchor="end" fill="#222" stroke="#222" stroke-width="0.2">10</text>
<text transform="translate(246.15 548.7)" font-size="2.6" text-anchor="start" fill="#222" stroke="#222" stroke-width="0.2">1</text>
<text transform="translate(270.8 550.1)" font-size="3.2" text-anchor="end" fill="#222" stroke="#222" stroke-width="0.2">10</text>
<text transform="translate(270.9 548.7)" font-size="2.6" text-anchor="start" fill="#222" stroke="#222" stroke-width="0.2">2</text>
<text transform="translate(295.55 550.1)" font-size="3.2" text-anchor="end" fill="#222" stroke="#222" stroke-width="0.2">10</text>
<text transform="translate(295.65 548.7)" font-size="2.6" text-anchor="start" fill="#222" stroke="#222" stroke-width="0.2">3</text>
<text transform="translate(320.3 550.1)" font-size="3.2" text-anchor="end" fill="#222" stroke="#222" stroke-width="0.2">10</text>
<text transform="translate(320.4 548.7)" font-size="2.6" text-anchor="start" fill="#222" stroke="#222" stroke-width="0.2">4</text>
<text transform="translate(218.7 492.59999999999997)" font-size="3.2" text-anchor="end" fill="#222" stroke="#222" stroke-width="0.2">80</text>
<text transform="translate(218.7 509.9)" font-size="3.2" text-anchor="end" fill="#222" stroke="#222" stroke-width="0.2">80</text>
<text transform="translate(218.7 527.2)" font-size="3.2" text-anchor="end" fill="#222" stroke="#222" stroke-width="0.2">80</text>
<text transform="translate(218.7 545.1)" font-size="3.2" text-anchor="end" fill="#222" stroke="#222" stroke-width="0.2">80</text>
<text transform="translate(384.9 434.44) scale(0.89 1)" font-size="10.4" text-anchor="end" fill="#111" stroke="#111" stroke-width="0.2">5</text>
<text transform="translate(384.9 418.49) scale(0.89 1)" font-size="10.4" text-anchor="end" fill="#111" stroke="#111" stroke-width="0.2">10</text>
<text transform="translate(384.9 402.54) scale(0.89 1)" font-size="10.4" text-anchor="end" fill="#111" stroke="#111" stroke-width="0.2">15</text>
<text transform="translate(384.9 386.59) scale(0.89 1)" font-size="10.4" text-anchor="end" fill="#111" stroke="#111" stroke-width="0.2">20</text>
<text transform="translate(384.9 370.64) scale(0.89 1)" font-size="10.4" text-anchor="end" fill="#111" stroke="#111" stroke-width="0.2">25</text>
<text transform="translate(384.9 354.69) scale(0.89 1)" font-size="10.4" text-anchor="end" fill="#111" stroke="#111" stroke-width="0.2">30</text>
<text transform="translate(384.9 338.74) scale(0.89 1)" font-size="10.4" text-anchor="end" fill="#111" stroke="#111" stroke-width="0.2">35</text>
<text transform="translate(407 455)" font-size="9.5" text-anchor="middle" fill="#111" stroke="#111" stroke-width="0.2">V</text>
<text transform="translate(436.5 455)" font-size="9.5" text-anchor="middle" fill="#111" stroke="#111" stroke-width="0.2">Indo</text>
<text transform="translate(369.2 387) rotate(-90) scale(1 0.9)" font-size="9.7" text-anchor="middle" fill="#111" stroke="#111" stroke-width="0.2">MFI of Flt3 on CDP</text>
<text transform="translate(384.9 556.19) scale(0.89 1)" font-size="10.4" text-anchor="end" fill="#111" stroke="#111" stroke-width="0.2">20</text>
<text transform="translate(384.9 534.19) scale(0.89 1)" font-size="10.4" text-anchor="end" fill="#111" stroke="#111" stroke-width="0.2">40</text>
<text transform="translate(384.9 511.99) scale(0.89 1)" font-size="10.4" text-anchor="end" fill="#111" stroke="#111" stroke-width="0.2">60</text>
<text transform="translate(384.9 489.99) scale(0.89 1)" font-size="10.4" text-anchor="end" fill="#111" stroke="#111" stroke-width="0.2">80</text>
<text transform="translate(384.9 469.19) scale(0.89 1)" font-size="10.4" text-anchor="end" fill="#111" stroke="#111" stroke-width="0.2">100</text>
<text transform="translate(407.5 582.5)" font-size="9.5" text-anchor="middle" fill="#111" stroke="#111" stroke-width="0.2">V</text>
<text transform="translate(436.5 582.5)" font-size="9.5" text-anchor="middle" fill="#111" stroke="#111" stroke-width="0.2">Indo</text>
<text transform="translate(368.9 517.5) rotate(-90) scale(1 0.9)" font-size="9.7" text-anchor="middle" fill="#111" stroke="#111" stroke-width="0.2">MFI of Flt3 on pre-cDC</text>
<text transform="translate(52 723.97) scale(0.94 1)" font-size="9.5" text-anchor="end" fill="#111" stroke="#111" stroke-width="0.2">0</text>
<text transform="translate(52 709.39) scale(0.94 1)" font-size="9.5" text-anchor="end" fill="#111" stroke="#111" stroke-width="0.2">2000</text>
<text transform="translate(52 694.8) scale(0.94 1)" font-size="9.5" text-anchor="end" fill="#111" stroke="#111" stroke-width="0.2">4000</text>
<text transform="translate(52 680.21) scale(0.94 1)" font-size="9.5" text-anchor="end" fill="#111" stroke="#111" stroke-width="0.2">6000</text>
<text transform="translate(52 665.63) scale(0.94 1)" font-size="9.5" text-anchor="end" fill="#111" stroke="#111" stroke-width="0.2">8000</text>
<text transform="translate(52 651.04) scale(0.94 1)" font-size="9.5" text-anchor="end" fill="#111" stroke="#111" stroke-width="0.2">10000</text>
<text transform="translate(52 636.46) scale(0.94 1)" font-size="9.5" text-anchor="end" fill="#111" stroke="#111" stroke-width="0.2">12000</text>
<text transform="translate(52 621.87) scale(0.94 1)" font-size="9.5" text-anchor="end" fill="#111" stroke="#111" stroke-width="0.2">14000</text>
<text transform="translate(71.4 732.8) scale(0.943 1)" font-size="10.18" text-anchor="middle" fill="#111" stroke="#111" stroke-width="0.2">V</text>
<text transform="translate(97.8 732.8) scale(0.943 1)" font-size="10.18" text-anchor="middle" fill="#111" stroke="#111" stroke-width="0.2">Indo</text>
<text transform="translate(86.5 745) scale(0.943 1)" font-size="10.07" text-anchor="middle" fill="#111" stroke="#111" stroke-width="0.2">Vector</text>
<text transform="translate(134 732.8) scale(0.943 1)" font-size="10.18" text-anchor="middle" fill="#111" stroke="#111" stroke-width="0.2">V</text>
<text transform="translate(160 732.8) scale(0.943 1)" font-size="10.18" text-anchor="middle" fill="#111" stroke="#111" stroke-width="0.2">Indo</text>
<text transform="translate(146.2 745.3) scale(0.943 1)" font-size="10.07" text-anchor="middle" fill="#111" stroke="#111" stroke-width="0.2">Flt3</text>
<text transform="translate(23.8 669.3) rotate(-90) scale(1 0.9)" font-size="9.5" text-anchor="middle" fill="#111" stroke="#111" stroke-width="0.2">GFP+ DC generation</text>
<text transform="translate(224 713.95) scale(0.8 1)" font-size="11" text-anchor="end" fill="#111" stroke="#111" stroke-width="0.2">5</text>
<text transform="translate(224 691.45) scale(0.8 1)" font-size="11" text-anchor="end" fill="#111" stroke="#111" stroke-width="0.2">15</text>
<text transform="translate(224 668.95) scale(0.8 1)" font-size="11" text-anchor="end" fill="#111" stroke="#111" stroke-width="0.2">25</text>
<text transform="translate(224 646.45) scale(0.8 1)" font-size="11" text-anchor="end" fill="#111" stroke="#111" stroke-width="0.2">35</text>
<text transform="translate(224 623.95) scale(0.8 1)" font-size="11" text-anchor="end" fill="#111" stroke="#111" stroke-width="0.2">45</text>
<text transform="translate(249.2 732.8) scale(0.943 1)" font-size="10.18" text-anchor="middle" fill="#111" stroke="#111" stroke-width="0.2">V</text>
<text transform="translate(271.7 732.8) scale(0.943 1)" font-size="10.18" text-anchor="middle" fill="#111" stroke="#111" stroke-width="0.2">Indo</text>
<text transform="translate(261.3 745) scale(0.943 1)" font-size="10.07" text-anchor="middle" fill="#111" stroke="#111" stroke-width="0.2">Vector</text>
<text transform="translate(308.9 732.8) scale(0.943 1)" font-size="10.18" text-anchor="middle" fill="#111" stroke="#111" stroke-width="0.2">V</text>
<text transform="translate(332 732.8) scale(0.943 1)" font-size="10.18" text-anchor="middle" fill="#111" stroke="#111" stroke-width="0.2">Indo</text>
<text transform="translate(324.6 745) scale(0.943 1)" font-size="10.07" text-anchor="middle" fill="#111" stroke="#111" stroke-width="0.2">Flt3</text>
<text transform="translate(209.5 667.8) rotate(-90) scale(1 0.9)" font-size="9.5" text-anchor="middle" fill="#111" stroke="#111" stroke-width="0.2">pSTAT3 in pre-cDC (MFI)</text>
<text transform="translate(395.2 725.19) scale(0.9 1)" font-size="10.1" text-anchor="end" fill="#111" stroke="#111" stroke-width="0.2">0</text>
<text transform="translate(395.2 710.56) scale(0.9 1)" font-size="10.1" text-anchor="end" fill="#111" stroke="#111" stroke-width="0.2">5</text>
<text transform="translate(395.2 695.93) scale(0.9 1)" font-size="10.1" text-anchor="end" fill="#111" stroke="#111" stroke-width="0.2">10</text>
<text transform="translate(395.2 681.3) scale(0.9 1)" font-size="10.1" text-anchor="end" fill="#111" stroke="#111" stroke-width="0.2">15</text>
<text transform="translate(395.2 666.67) scale(0.9 1)" font-size="10.1" text-anchor="end" fill="#111" stroke="#111" stroke-width="0.2">20</text>
<text transform="translate(395.2 652.04) scale(0.9 1)" font-size="10.1" text-anchor="end" fill="#111" stroke="#111" stroke-width="0.2">25</text>
<text transform="translate(395.2 637.41) scale(0.9 1)" font-size="10.1" text-anchor="end" fill="#111" stroke="#111" stroke-width="0.2">30</text>
<text transform="translate(395.2 622.78) scale(0.9 1)" font-size="10.1" text-anchor="end" fill="#111" stroke="#111" stroke-width="0.2">35</text>
<text transform="translate(413.7 732.6) scale(0.943 1)" font-size="10.18" text-anchor="middle" fill="#111" stroke="#111" stroke-width="0.2">V</text>
<text transform="translate(440.7 732.6) scale(0.943 1)" font-size="10.18" text-anchor="middle" fill="#111" stroke="#111" stroke-width="0.2">Indo</text>
<text transform="translate(427.4 744.5) scale(0.943 1)" font-size="10.07" text-anchor="middle" fill="#111" stroke="#111" stroke-width="0.2">Vector</text>
<text transform="translate(474.6 732.6) scale(0.943 1)" font-size="10.18" text-anchor="middle" fill="#111" stroke="#111" stroke-width="0.2">V</text>
<text transform="translate(502.5 732.6) scale(0.943 1)" font-size="10.18" text-anchor="middle" fill="#111" stroke="#111" stroke-width="0.2">Indo</text>
<text transform="translate(489.2 744.7) scale(0.943 1)" font-size="10.07" text-anchor="middle" fill="#111" stroke="#111" stroke-width="0.2">Flt3</text>
<text transform="translate(379.7 666) rotate(-90) scale(1 0.9)" font-size="9.6" text-anchor="middle" fill="#111" stroke="#111" stroke-width="0.2">Survivin expression in pre-cDC (%)</text>
</g></svg></body></html>
